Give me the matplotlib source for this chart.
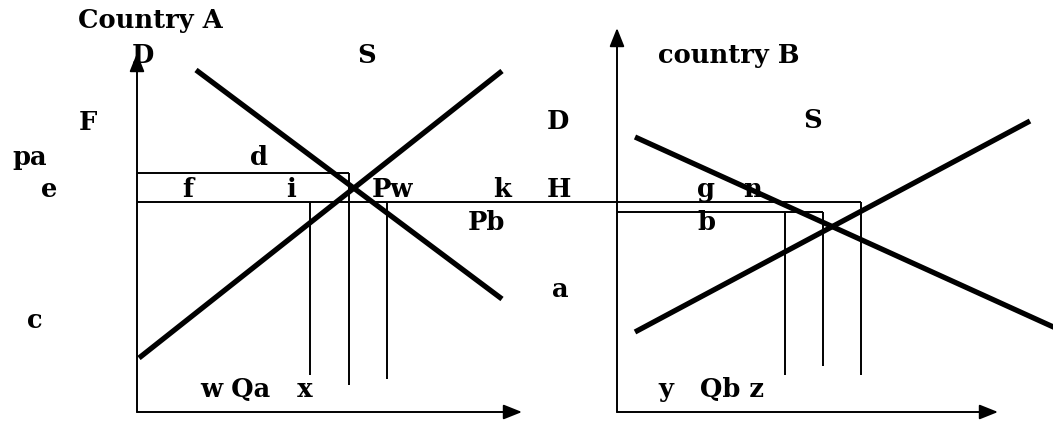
import matplotlib
matplotlib.use('Agg')
import matplotlib.pyplot as plt
from matplotlib.patches import ArrowStyle

# diagram coordinates, in pixels of the 1053x421 picture (y grows downwards)
# thick supply / demand curves: (x0, y0, x1, y1)
curves = [
    (196, 70, 502, 299),    # demand, country A
    (139, 358, 502, 71),    # supply, country A
    (635, 137, 1060, 330),  # demand, country B
    (635, 332, 1030, 121),  # supply, country B
]

# axes with arrow heads: (x0, y0, tip_x, tip_y)
axes_arrows = [
    (137, 412, 137, 53),
    (137, 412, 522, 412),
    (617, 412, 617, 28),
    (617, 412, 998, 412),
]

# thin price / quantity guide lines: (x0, y0, x1, y1)
guides = [
    (137, 173, 349, 173),   # pa
    (349, 173, 349, 385),
    (137, 202, 861, 202),   # world price
    (861, 202, 861, 375),
    (310, 202, 310, 375),
    (387, 202, 387, 379),
    (617, 212, 823, 212),   # pb
    (823, 212, 823, 366),
    (785, 212, 785, 375),
]

# text labels: (text, x_left, baseline)
labels = [
    ('Country A', 78, 28),
    ('D', 132, 63), ('S', 357, 63),
    ('F', 79, 130), ('D', 547, 129),
    ('pa', 12, 165), ('d', 250, 165),
    ('e', 41, 197), ('f', 182, 197), ('i', 286, 197), ('Pw', 372, 197),
    ('k', 493, 197), ('H', 547, 197),
    ('Pb', 468, 230), ('a', 552, 297), ('c', 27, 328),
    ('w Qa   x', 200, 397),
    ('country B', 658, 63), ('S', 803, 128),
    ('g', 697, 197), ('n', 743, 197), ('b', 697, 230),
    ('y   Qb z', 658, 397),
]

fig = plt.figure(figsize=(10.53, 4.21), dpi=100)
ax = fig.add_axes([0, 0, 1, 1])
ax.set_xlim(0, 1053)
ax.set_ylim(421, 0)
ax.axis('off')

for x0, y0, x1, y1 in guides:
    ax.plot([x0, x1], [y0, y1], color='black', lw=1.4, solid_capstyle='butt')

for x0, y0, x1, y1 in axes_arrows:
    ax.annotate('', xy=(x1, y1), xytext=(x0, y0),
                arrowprops=dict(arrowstyle=ArrowStyle('-|>', head_length=0.75, head_width=0.3),
                                mutation_scale=15, lw=1.4, color='black',
                                shrinkA=0, shrinkB=0))

for x0, y0, x1, y1 in curves:
    ax.plot([x0, x1], [y0, y1], color='black', lw=3.8, solid_capstyle='butt')

for txt, x, y in labels:
    ax.text(x, y, txt, ha='left', va='baseline', fontsize=18.5,
            fontweight='bold', family='DejaVu Serif', color='black')

fig.savefig('out.png', dpi=100)
